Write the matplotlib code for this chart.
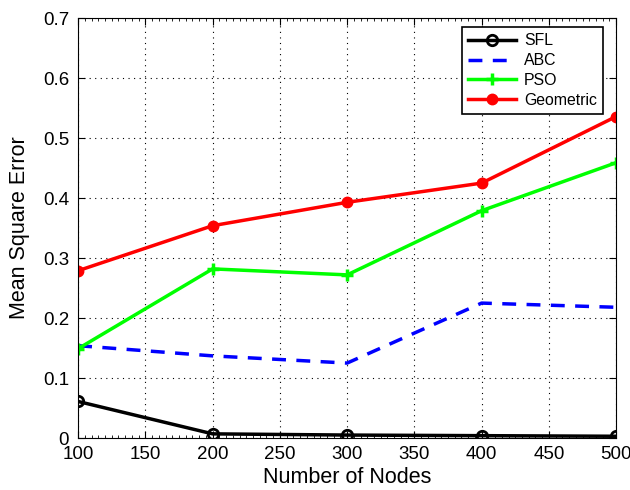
import numpy as np
import matplotlib
matplotlib.use("Agg")
import matplotlib.pyplot as plt
from matplotlib.ticker import MultipleLocator

plt.rcParams['font.family'] = ['Liberation Sans', 'DejaVu Sans']

nodes = [100, 200, 300, 400, 500]
sfl = [0.061, 0.007, 0.005, 0.004, 0.003]
abc = [0.154, 0.137, 0.125, 0.225, 0.218]
pso = [0.149, 0.282, 0.272, 0.379, 0.459]
geo = [0.279, 0.354, 0.393, 0.425, 0.536]

fig = plt.figure(figsize=(6.3, 4.9), dpi=100)
ax = fig.add_axes([0.124, 0.106, 0.854, 0.857])

ax.plot(nodes, sfl, color='k', lw=2.5, marker='o', ms=7.5, mfc='none', mew=2, label='SFL')
ax.plot(nodes, abc, color='b', lw=2.5, ls='--', dashes=(4, 3), label='ABC')
ax.plot(nodes, pso, color='#00ff00', lw=2.5, marker='+', ms=9, mew=2.5, label='PSO')
ax.plot(nodes, geo, color='r', lw=2.5, marker='o', ms=7.5, label='Geometric')

ax.set_xlim(100, 500)
ax.set_ylim(0, 0.7)
ax.set_xticks(np.arange(100, 501, 50))
ax.xaxis.set_minor_locator(MultipleLocator(5))
ax.set_yticks(np.arange(0, 0.71, 0.1))
ax.set_yticklabels(['0', '0.1', '0.2', '0.3', '0.4', '0.5', '0.6', '0.7'])
ax.tick_params(which='both', direction='in', top=True, right=True)
ax.tick_params(which='major', labelsize=13.5, length=5)
ax.tick_params(axis='x', which='major', pad=6)
ax.tick_params(axis='y', which='major', pad=6.5)
ax.tick_params(which='minor', length=2.5)
ax.grid(True, which='major', color='k', ls=(0, (1, 4)), lw=0.8)
ax.set_xlabel('Number of Nodes', fontsize=15.5, labelpad=2.5)
ax.set_ylabel('Mean Square Error', fontsize=15.5, labelpad=9)

leg = ax.legend(loc='upper right', bbox_to_anchor=(603 / 630, 1 - 27 / 490),
                bbox_transform=fig.transFigure, borderaxespad=0,
                fontsize=11.4, fancybox=False, framealpha=1, edgecolor='k',
                handlelength=3, handletextpad=0.5, labelspacing=0.3,
                borderpad=0.4)
leg.get_frame().set_linewidth(1.2)

fig.savefig('out.png', dpi=100)
